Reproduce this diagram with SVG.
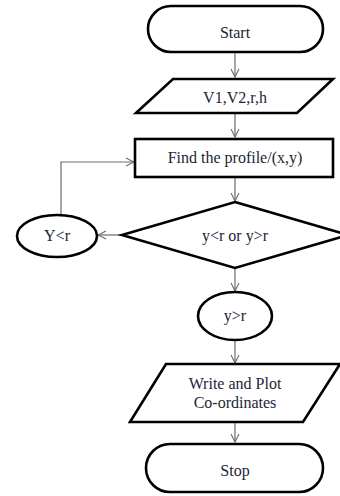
<svg xmlns="http://www.w3.org/2000/svg" width="340" height="496" viewBox="0 0 340 496">
<style>
.n{fill:#fff;stroke:#000;stroke-width:2.6}
.t{font-family:"Liberation Serif","Times New Roman",serif;font-size:16px;fill:#1c2636;text-anchor:middle}
.c{fill:none;stroke:#6b6b6b;stroke-width:1.2}
</style>
<defs>
<marker id="a" markerWidth="10" markerHeight="10" refX="9" refY="5" orient="auto" markerUnits="userSpaceOnUse">
<path d="M1,1 L9,5 L1,9" fill="none" stroke="#6b6b6b" stroke-width="1.1"/>
</marker>
</defs>
<rect width="340" height="496" fill="#fff"/>
<g id="connectors">
<path class="c" d="M235,52 V77" marker-end="url(#a)"/>
<path class="c" d="M235,113 V137" marker-end="url(#a)"/>
<path class="c" d="M235,177 V201" marker-end="url(#a)"/>
<path class="c" d="M122,235 H98" marker-end="url(#a)"/>
<path class="c" d="M61,214 V162 H134" marker-end="url(#a)"/>
<path class="c" d="M235,268 V291" marker-end="url(#a)"/>
<path class="c" d="M235,340 V363" marker-end="url(#a)"/>
<path class="c" d="M235,422 V442" marker-end="url(#a)"/>
</g>
<g id="start">
<rect class="n" x="148" y="6" width="175" height="46" rx="23"/>
<text class="t" x="235" y="38" font-size="18">Start</text>
</g>
<g id="input">
<polygon class="n" points="173,79 333,79 297,113 136,113"/>
<text class="t" x="235" y="103" font-size="18">V1,V2,r,h</text>
</g>
<g id="profile">
<rect class="n" x="135" y="139" width="198" height="38"/>
<text class="t" x="235" y="163">Find the profile/(x,y)</text>
</g>
<g id="decision">
<polygon class="n" points="235,202 348,235 235,268 122,235"/>
<text class="t" x="235" y="241" font-size="16.5">y&lt;r or y&gt;r</text>
</g>
<g id="ylessr">
<ellipse class="n" cx="57" cy="236" rx="40" ry="21"/>
<text class="t" x="57" y="241" font-size="15">Y&lt;r</text>
</g>
<g id="ygreaterr">
<ellipse class="n" cx="235" cy="316" rx="37" ry="24"/>
<text class="t" x="235" y="321" font-size="15.5">y&gt;r</text>
</g>
<g id="output">
<polygon class="n" points="166,364 340,364 303,422 130,422"/>
<text class="t" x="235" y="389">Write and Plot</text>
<text class="t" x="235" y="408">Co-ordinates</text>
</g>
<g id="stop">
<rect class="n" x="146" y="444" width="177" height="48" rx="24"/>
<text class="t" x="235" y="476">Stop</text>
</g>
</svg>
